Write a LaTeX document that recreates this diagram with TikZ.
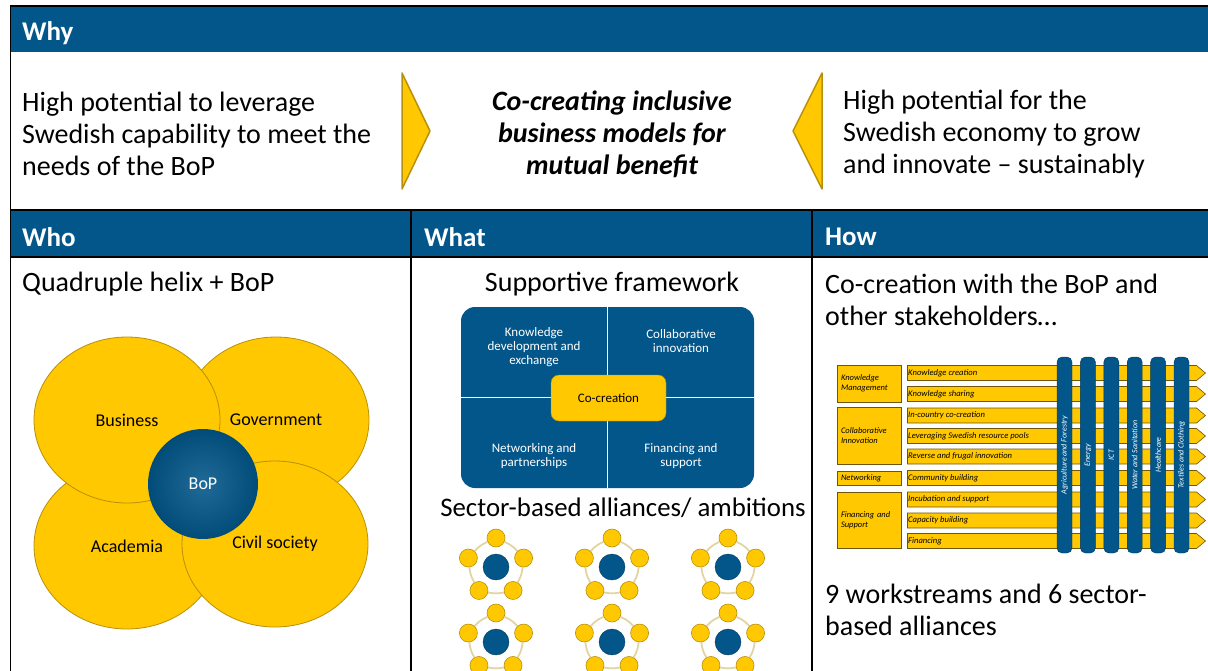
\documentclass[tikz,border=0pt]{standalone}
\usepackage{fontspec}
\setmainfont{Carlito}
\usetikzlibrary{shapes.geometric,shapes.symbols}

\definecolor{navy}{HTML}{02568A}
\definecolor{gold}{HTML}{FFC800}
\definecolor{goldline}{HTML}{B8900A}
\definecolor{ring}{HTML}{E2D4A2}
\newcommand{\fs}[2]{\fontsize{#1}{#2}\selectfont}

\begin{document}
\begin{tikzpicture}[x=1pt, y=-1pt]
    \tikzstyle{head}=[anchor=west, inner sep=0pt, text=white, font=\fs{27}{32}\bfseries]
    \tikzstyle{body}=[inner sep=0pt, align=left, font=\fs{28}{32}]
    \tikzstyle{chevron}=[fill=gold, draw=goldline, line width=1.5pt, line join=round]
    \tikzstyle{helix}=[ellipse, fill=gold, draw=goldline, line width=0.8pt, minimum width=186pt, minimum height=166pt, inner sep=0pt, font=\fs{18}{20}]
    \tikzstyle{panel}=[fill=navy, rounded corners=14pt, inner sep=0pt]
    \tikzstyle{quad}=[text=white, align=center, inner sep=0pt, font=\fs{13}{14}]
    \tikzstyle{hub}=[circle, fill=navy, draw=navy!70!black, minimum size=26pt, inner sep=0pt]
    \tikzstyle{spoke}=[circle, fill=gold, draw=goldline, line width=0.6pt, minimum size=18pt, inner sep=0pt]
    \tikzstyle{group}=[fill=gold, draw=goldline!60!black, line width=0.6pt, minimum width=64pt, text width=56pt, align=left, inner sep=0pt, font=\fs{8.5}{10}\itshape]
    \tikzstyle{stream}=[signal, signal to=east, signal pointer angle=80, fill=gold, draw=goldline!60!black, line width=0.6pt, minimum width=298pt, minimum height=15pt, inner sep=0pt]
    \tikzstyle{sector}=[rotate=90, fill=navy, draw=navy!70!black, rounded corners=5pt, minimum width=196pt, minimum height=15pt, inner sep=0pt, text=white, font=\fs{8}{9}\itshape]

    \useasboundingbox (0,0) rectangle (1208,670);

    % header bars
    \fill[navy] (10.5,6) rectangle (1215,52);
    \fill[navy] (10.5,210) rectangle (1215,257);
    \node[head] (why) at (22,33) {Why};
    \node[head] (who) at (22,237) {Who};
    \node[head] (what) at (424,237) {What};
    \node[head] (how) at (825,237) {How};

    % table rules
    \draw[line width=1.5pt] (1215,6) -- (10.5,6) -- (10.5,680);
    \draw[line width=1.5pt] (10.5,210) -- (1215,210);
    \draw[line width=1.5pt] (10.5,257) -- (1215,257);
    \foreach \x in {411,812}
    \draw[line width=1.5pt] (\x,210) -- (\x,680);

    % why row
    \node[body, anchor=west] (why-l) at (22,134) {High potential to leverage\\Swedish capability to meet the\\needs of the BoP};
    \node[body, align=center, font=\fs{28}{32}\bfseries\itshape] (why-c) at (612,134) {Co-creating inclusive\\business models for\\mutual benefit};
    \node[body, anchor=west] (why-r) at (843,134) {High potential for the\\Swedish economy to grow\\and innovate -- sustainably};
    \draw[chevron] (402,73) -- (430,131) -- (402,189) -- cycle;
    \draw[chevron] (822,73) -- (793,131) -- (822,189) -- cycle;

    % who: quadruple helix
    \node[body, anchor=west] (helix-t) at (22,284) {Quadruple helix + BoP};
    \node[helix] (academia) at (127,546) {Academia};
    \node[helix] (government) at (276,420) {Government};
    \node[helix] (business) at (127,420) {Business};
    \node[helix] (civil) at (275,544) {Civil society};
    \node[circle, minimum size=110pt, inner sep=0pt, text=white, font=\fs{18}{20},
          inner color=navy!88!white, outer color=navy!88!black] (bop) at (203,484) {BoP};

    % what: framework
    \node[body] (frame-t) at (612,284) {Supportive framework};
    \node[panel, minimum width=293pt, minimum height=181pt] (frame) at (607.5,397.5) {};
    \draw[white, line width=1.2pt] (frame.north) -- (frame.south);
    \draw[white, line width=1.2pt] (frame.west) -- (frame.east);
    \node[fill=gold, draw=goldline, rounded corners=8pt, minimum width=115pt, minimum height=46pt, font=\fs{13}{14}] (cocreate) at (608.5,398) {Co-creation};
    \node[quad] (q-kd) at (534,347) {Knowledge\\development and\\exchange};
    \node[quad] (q-ci) at (681,341) {Collaborative\\innovation};
    \node[quad] (q-np) at (534,456) {Networking and\\partnerships};
    \node[quad] (q-fs) at (681,456) {Financing and\\support};

    % what: alliances
    \node[body, font=\fs{26.8}{32}] (alliance-t) at (623,508) {Sector-based alliances/ ambitions};
    \foreach \k/\cx/\cy in {1/496/567, 2/612/567, 3/728/567, 4/496/642, 5/612/642, 6/728/642} {
        \begin{scope}[shift={(\cx,\cy)}]
            \foreach \i in {0,...,4}
            \node[spoke] (spk-\k-\i) at ({29*cos(90+72*\i)}, {-29*sin(90+72*\i)}) {};
            \foreach \a/\b in {0/1, 1/2, 2/3, 3/4, 4/0}
            \draw[ring, line width=1.8pt] (spk-\k-\a) to[bend right=12] (spk-\k-\b);
            \node[hub] (hub-\k) at (0,0) {};
        \end{scope}
    }

    % how: workstreams and sectors
    \node[body, anchor=west] (how-t) at (825,300) {Co-creation with the BoP and\\other stakeholders\dots};
    \foreach \n/\y/\txt in {1/373/Knowledge creation, 2/394/Knowledge sharing, 3/415.5/In-country co-creation,
        4/436/Leveraging Swedish resource pools, 5/456.5/Reverse and frugal innovation, 6/478/Community building,
        7/499.5/Incubation and support, 8/520.5/Capacity building, 9/541/Financing} {
        \node[stream] (ws-\n) at (1052,\y) {};
        \node[anchor=west, inner sep=0pt, font=\fs{8.6}{10}\itshape] (wl-\n) at (908,\y) {\txt};
    }
    \node[group, minimum height=37pt] (gm-1) at (869,383.5) {Knowledge\\Management};
    \node[group, minimum height=57pt] (gm-2) at (869,435.5) {Collaborative\\Innovation};
    \node[group, minimum height=14pt] (gm-3) at (869,478) {Networking};
    \node[group, minimum height=56pt] (gm-4) at (869,520) {Financing and\\Support};
    \foreach \i/\name in {1/Agriculture and Forestry, 2/Energy, 3/ICT, 4/Water and Sanitation, 5/Healthcare, 6/Textiles and Clothing}
    \node[sector] (sec-\i) at ({1064.5+23.4*(\i-1)},455) {\name};
    \node[body, anchor=west] (how-b) at (825,610) {9 workstreams and 6 sector-\\based alliances};
\end{tikzpicture}
\end{document}
